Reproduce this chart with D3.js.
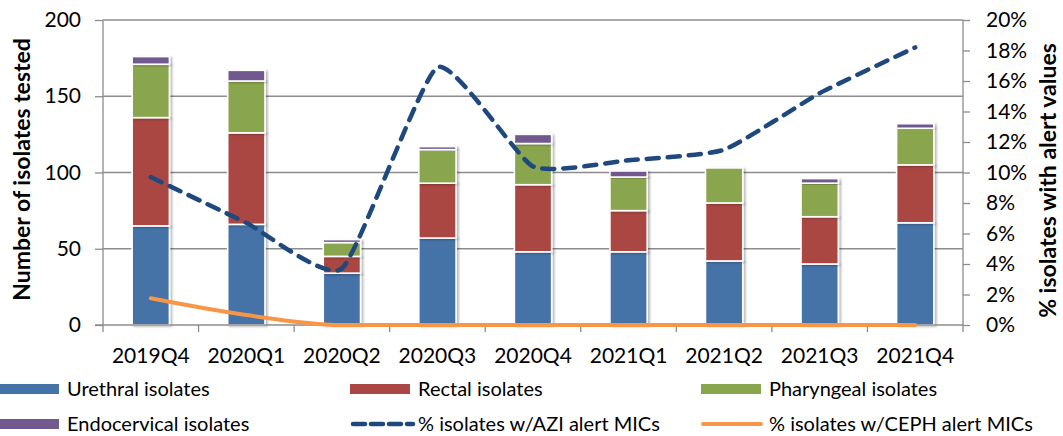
<!DOCTYPE html>
<html>
<head>
<meta charset="utf-8">
<script src="https://cdn.jsdelivr.net/npm/d3@7"></script>
<style>
  body { margin: 0; background: #fff; }
  svg { display: block; font-family: Lato, "Open Sans", sans-serif; }
</style>
</head>
<body>
<svg id="chart" width="1063" height="436"></svg>
<script>
// data
const quarters = ["2019Q4","2020Q1","2020Q2","2020Q3","2020Q4","2021Q1","2021Q2","2021Q3","2021Q4"];
const urethral     = [65, 66, 34, 57, 48, 48, 42, 40, 67];
const rectal       = [71, 60, 11, 36, 44, 27, 38, 31, 38];
const pharyngeal   = [35, 34,  9, 22, 27, 22, 23, 22, 24];
const endocervical = [ 5,  7,  2,  2,  6,  4,  0,  3,  3];
const aziPct  = [9.7, 6.7, 3.7, 16.9, 10.4, 10.8, 11.5, 15.2, 18.2];
const cephPct = [1.75, 0.65, 0, 0, 0, 0, 0, 0, 0];
const leftTicks  = [0, 50, 100, 150, 200];
const rightTicks = [0, 2, 4, 6, 8, 10, 12, 14, 16, 18, 20];

const series = [
  {key: "urethral",     label: "Urethral isolates",     color: "#4572A7", values: urethral},
  {key: "rectal",       label: "Rectal isolates",       color: "#AA4643", values: rectal},
  {key: "pharyngeal",   label: "Pharyngeal isolates",   color: "#89A54E", values: pharyngeal},
  {key: "endocervical", label: "Endocervical isolates", color: "#71588F", values: endocervical}
];

const svg = d3.select("#chart");
const m = {left: 103, right: 963, top: 20, bottom: 325};
const gridColor = "#8c8c8c";

const x = d3.scaleBand().domain(quarters).range([m.left, m.right]).paddingInner(0.61).paddingOuter(0.305);
const band = d3.scaleBand().domain(quarters).range([m.left, m.right]);
const y = d3.scaleLinear().domain([0, 200]).range([m.bottom, m.top]);
const y2 = d3.scaleLinear().domain([0, 20]).range([m.bottom, m.top]);

const defs = svg.append("defs");
defs.append("filter").attr("id", "shadow").attr("x", "-20%").attr("y", "-20%").attr("width", "150%").attr("height", "150%")
  .append("feDropShadow").attr("dx", 2).attr("dy", 1).attr("stdDeviation", 1.2)
  .attr("flood-color", "#000").attr("flood-opacity", 0.28);

// gridlines
svg.append("g").selectAll("line").data(leftTicks.filter(d => d > 0)).join("line")
  .attr("x1", m.left).attr("x2", m.right)
  .attr("y1", d => y(d)).attr("y2", d => y(d))
  .attr("stroke", gridColor).attr("stroke-width", 1.3);

// stacked bars
const rows = quarters.map((q, i) => {
  const r = {q};
  series.forEach(s => r[s.key] = s.values[i]);
  return r;
});
const stacked = d3.stack().keys(series.map(s => s.key))(rows);

svg.append("g").selectAll("g").data(stacked).join("g")
  .attr("fill", (d, i) => series[i].color)
  .selectAll("rect").data(d => d.filter(v => v[1] - v[0] > 0)).join("rect")
  .attr("x", d => x(d.data.q))
  .attr("width", x.bandwidth())
  .attr("y", d => y(d[1]))
  .attr("height", d => y(d[0]) - y(d[1]))
  .attr("stroke", "#fff").attr("stroke-width", 1.6)
  .attr("filter", "url(#shadow)");

// axes
const axL = svg.append("g").attr("transform", `translate(${m.left},0)`)
  .call(d3.axisLeft(y).tickValues(leftTicks).tickSize(8).tickPadding(14));
const axR = svg.append("g").attr("transform", `translate(${m.right},0)`)
  .call(d3.axisRight(y2).tickValues(rightTicks).tickSize(7).tickPadding(16).tickFormat(d => d + "%"));
const axB = svg.append("g").attr("transform", `translate(0,${m.bottom})`)
  .call(d3.axisBottom(band).tickSize(0).tickPadding(23));

[axL, axR, axB].forEach(a => {
  a.select(".domain").attr("stroke", gridColor).attr("stroke-width", 1.3);
  a.selectAll(".tick line").attr("stroke", gridColor).attr("stroke-width", 1.3);
  a.selectAll("text").attr("font-size", 21).attr("fill", "#000").attr("font-family", "Lato");
});
axL.select(".domain").attr("d", `M0,${m.bottom}V${m.top}`);
axR.select(".domain").attr("d", `M0,${m.bottom}V${m.top}`);
axR.selectAll(".tick text").attr("text-anchor", "start");
axB.select(".domain").attr("d", `M${m.left - 8},0H${m.right}`);

// category boundary ticks on x axis
svg.append("g").selectAll("line").data(d3.range(quarters.length + 1)).join("line")
  .attr("x1", i => m.left + i * band.step()).attr("x2", i => m.left + i * band.step())
  .attr("y1", m.bottom).attr("y2", m.bottom + 7)
  .attr("stroke", gridColor).attr("stroke-width", 1.3);

// lines
const cx = q => x(q) + x.bandwidth() / 2;
const aziLine = d3.line().x((d, i) => cx(quarters[i])).y(d => y2(d)).curve(d3.curveCardinal.tension(0.5));
const cephLine = d3.line().x((d, i) => cx(quarters[i])).y(d => y2(d)).curve(d3.curveMonotoneX);

svg.append("path").datum(cephPct).attr("d", cephLine)
  .attr("fill", "none").attr("stroke", "#F79646").attr("stroke-width", 4).attr("stroke-linecap", "round");
svg.append("path").datum(aziPct).attr("d", aziLine)
  .attr("fill", "none").attr("stroke", "#1F497D").attr("stroke-width", 4.5)
  .attr("stroke-dasharray", "12,9").attr("stroke-linecap", "round");

// axis titles
svg.append("text")
  .attr("transform", `translate(30,${(m.top + m.bottom) / 2 - 3}) rotate(-90)`)
  .attr("text-anchor", "middle").attr("font-weight", "bold").attr("font-size", 23)
  .text("Number of isolates tested");
svg.append("text")
  .attr("transform", `translate(1056,${(m.top + m.bottom) / 2 + 8}) rotate(-90)`)
  .attr("text-anchor", "middle").attr("font-weight", "bold").attr("font-size", 23)
  .text("% isolates with alert values");

// legend
const legendItems = [
  {label: series[0].label, color: series[0].color, type: "rect"},
  {label: series[1].label, color: series[1].color, type: "rect"},
  {label: series[2].label, color: series[2].color, type: "rect"},
  {label: series[3].label, color: series[3].color, type: "rect"},
  {label: "% isolates w/AZI alert MICs",  color: "#1F497D", type: "dash"},
  {label: "% isolates w/CEPH alert MICs", color: "#F79646", type: "line"}
];
const lg = svg.append("g").selectAll("g").data(legendItems).join("g")
  .attr("transform", (d, i) => `translate(${-1 + (i % 3) * 351},${389 + Math.floor(i / 3) * 35})`);
lg.filter(d => d.type === "rect").append("rect")
  .attr("x", 0).attr("y", -5).attr("width", 60).attr("height", 10).attr("fill", d => d.color);
lg.filter(d => d.type === "dash").append("line")
  .attr("x1", 3).attr("x2", 63).attr("y1", 0).attr("y2", 0)
  .attr("stroke", d => d.color).attr("stroke-width", 4.5)
  .attr("stroke-dasharray", "12,6").attr("stroke-linecap", "round");
lg.filter(d => d.type === "line").append("line")
  .attr("x1", 2).attr("x2", 60).attr("y1", 0).attr("y2", 0)
  .attr("stroke", d => d.color).attr("stroke-width", 4).attr("stroke-linecap", "round");
lg.append("text").attr("x", 68).attr("y", 7).attr("font-size", 20).text(d => d.label);
</script>
</body>
</html>
